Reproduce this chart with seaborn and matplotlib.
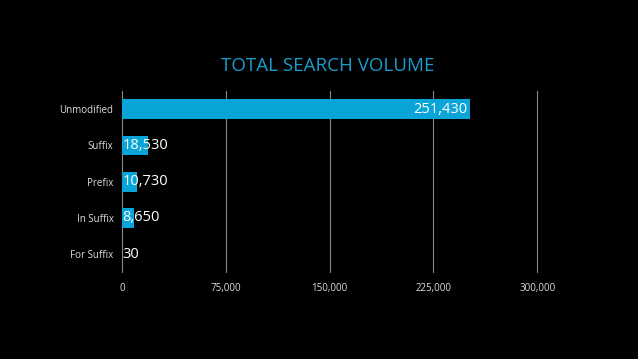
import pandas as pd
import seaborn as sns
import matplotlib.pyplot as plt

categories = ["Unmodified", "Suffix", "Prefix", "In Suffix", "For Suffix"]
volumes = [251430, 18530, 10730, 8650, 30]
x_ticks = [0, 75000, 150000, 225000, 300000]

BAR_COLOR = "#0aa5d8"
TITLE_COLOR = "#1a9cd0"

sns.set_theme(style="dark")
plt.rcParams["font.family"] = ["Open Sans", "DejaVu Sans"]

df = pd.DataFrame({"category": categories, "volume": volumes})

fig = plt.figure(figsize=(6.38, 3.59), dpi=100, facecolor="black")
ax = fig.add_axes([0.191, 0.242, 0.651, 0.504])
ax.set_facecolor("black")

sns.barplot(data=df, x="volume", y="category", order=categories,
            color=BAR_COLOR, saturation=1, width=0.55, linewidth=0, ax=ax)

ax.set_xlim(0, 300000)
ax.set_ylim(4.5, -0.5)
ax.set_xticks(x_ticks)
ax.set_xticklabels([f"{t:,}" for t in x_ticks], color="#dddddd", fontsize=7)
ax.tick_params(axis="y", colors="#dddddd", labelsize=7, length=0, pad=6)
ax.tick_params(axis="x", length=0, pad=8)
ax.set_xlabel("")
ax.set_ylabel("")
for s in ax.spines.values():
    s.set_visible(False)
ax.grid(False)
for t in x_ticks:
    ax.axvline(t, color="#8a8a8a", lw=0.8, zorder=0, clip_on=False)

for i, v in enumerate(volumes):
    if v > 100000:
        ax.text(v - 2000, i, f"{v:,}", ha="right", va="center",
                color="white", fontsize=10.5)
    else:
        ax.text(500, i, f"{v:,}", ha="left", va="center",
                color="white", fontsize=10.5)

fig.text(0.513, 0.815, "TOTAL SEARCH VOLUME", ha="center", va="center",
         color=TITLE_COLOR, fontsize=13.5)

fig.savefig("out.png", dpi=100, facecolor="black")
